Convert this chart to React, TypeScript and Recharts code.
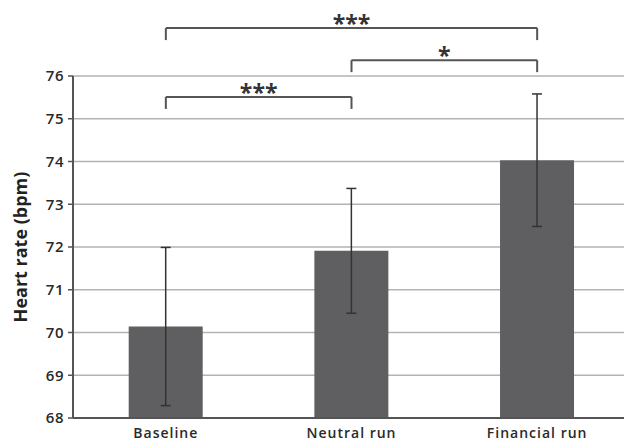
import { BarChart, Bar, XAxis, YAxis, CartesianGrid, ErrorBar, ReferenceLine } from "recharts";

const categories = ["Baseline", "Neutral run", "Financial run"];
const meanHeartRate = [70.14, 71.91, 74.03];
const errorHeartRate = [1.85, 1.46, 1.55];
const yTicks = [68, 69, 70, 71, 72, 73, 74, 75, 76];

// significance brackets: compared groups, bracket height (bpm), stars
const comparisons = [
  { from: "Baseline", to: "Financial run", level: 77.12, label: "***" },
  { from: "Neutral run", to: "Financial run", level: 76.37, label: "*" },
  { from: "Baseline", to: "Neutral run", level: 75.51, label: "***" },
];
const tipDrop = 0.28;

const data = categories.map((name, i) => ({
  name,
  hr: meanHeartRate[i],
  err: errorHeartRate[i],
}));

const FONT = "'Open Sans', sans-serif";
const AXIS = "#555";

export default function App() {
  return (
    <div style={{ position: "absolute", left: 0, top: 0, width: 624, height: 446, overflow: "hidden", background: "#fff" }}>
      <BarChart
        width={630}
        height={446}
        data={data}
        margin={{ top: 76, right: 0, left: 0, bottom: 0 }}
        barCategoryGap="30%"
      >
        <CartesianGrid vertical={false} stroke="#b3b3b3" strokeWidth={1.5} />
        <XAxis
          dataKey="name"
          height={28}
          tickLine={false}
          axisLine={{ stroke: AXIS, strokeWidth: 2 }}
          tick={{ fill: "#2a2a2a", fontSize: 14, fontWeight: 600, fontFamily: FONT, letterSpacing: 1 }}
          tickMargin={4}
        />
        <YAxis
          width={73}
          domain={[68, 76]}
          ticks={yTicks}
          allowDataOverflow
          tickSize={5}
          tickLine={{ stroke: AXIS, strokeWidth: 1.5 }}
          axisLine={{ stroke: AXIS, strokeWidth: 2 }}
          tick={{ fill: "#2a2a2a", fontSize: 15, fontWeight: 600, fontFamily: FONT, letterSpacing: 0.5 }}
          tickMargin={4}
          label={{
            value: "Heart rate (bpm)",
            angle: -90,
            position: "center",
            dx: -16,
            style: { fontFamily: FONT, fontSize: 18, fontWeight: 700, fill: "#222", textAnchor: "middle" },
          }}
        />
        <Bar dataKey="hr" fill="#5f5f61" isAnimationActive={false}>
          <ErrorBar dataKey="err" width={5} stroke="#333" strokeWidth={1.5} isAnimationActive={false} />
        </Bar>
        {comparisons.flatMap((c, i) => [
          <ReferenceLine
            key={`h${i}`}
            segment={[
              { x: c.from, y: c.level },
              { x: c.to, y: c.level },
            ]}
            ifOverflow="visible"
            stroke={AXIS}
            strokeWidth={2}
            label={{
              value: c.label,
              position: "center",
              dy: -4,
              style: { fontFamily: FONT, fontSize: 23, fontWeight: 700, fill: "#333" },
            }}
          />,
          <ReferenceLine
            key={`l${i}`}
            segment={[
              { x: c.from, y: c.level },
              { x: c.from, y: c.level - tipDrop },
            ]}
            ifOverflow="visible"
            stroke={AXIS}
            strokeWidth={2}
          />,
          <ReferenceLine
            key={`r${i}`}
            segment={[
              { x: c.to, y: c.level },
              { x: c.to, y: c.level - tipDrop },
            ]}
            ifOverflow="visible"
            stroke={AXIS}
            strokeWidth={2}
          />,
        ])}
      </BarChart>
    </div>
  );
}
